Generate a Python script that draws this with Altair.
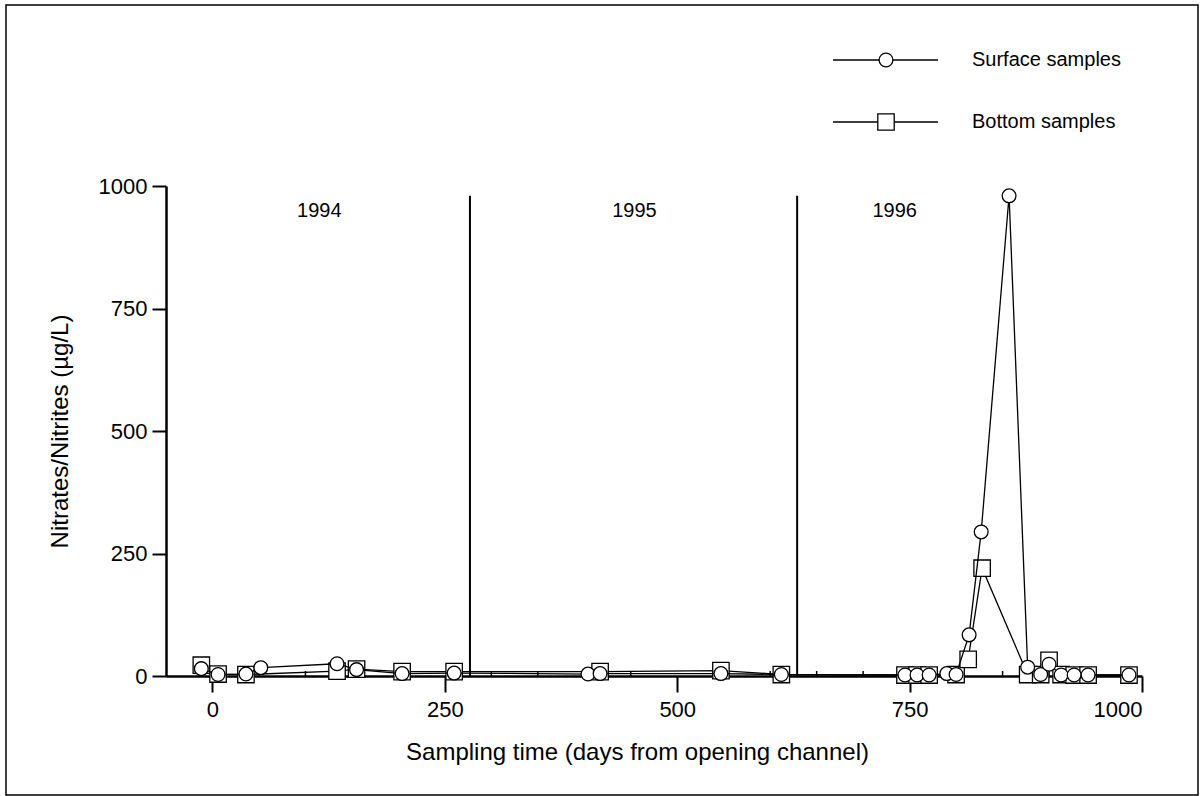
import altair as alt
import pandas as pd

# Sampling days (from channel opening) and nitrate/nitrite concentrations (µg/L)
surface_days = [-12, 6, 36, 52, 134, 155, 204, 260, 404, 417, 547, 612,
                745, 758, 771, 790, 800, 814, 827, 857, 877, 891, 900,
                913, 927, 942, 986]
surface_vals = [15, 3, 4, 17, 25, 13, 5, 6, 4, 5, 5, 3,
                2, 2, 2, 5, 3, 84, 294, 980, 18, 3, 24,
                2, 2, 2, 2]

bottom_days = [-12, 6, 36, 134, 155, 204, 260, 417, 547, 612,
               745, 758, 771, 800, 813, 828, 877, 891, 900,
               913, 927, 942, 986]
bottom_vals = [22, 4, 3, 10, 14, 9, 9, 9, 11, 3,
               2, 2, 2, 3, 34, 220, 3, 3, 32,
               3, 2, 2, 2]

# Year boundaries and year captions
year_breaks = [277, 629]
break_top = 980
year_labels = ["1994", "1995", "1996"]
year_label_days = [115, 454, 734]
year_label_level = 950

# Minor (inward) ticks along the time axis
minor_ticks = [50, 100, 150, 200, 300, 350, 400, 450, 550, 600, 650, 700,
               800, 850, 900, 950]

x_ticks = [0, 250, 500, 750, 1000]
y_ticks = [0, 250, 500, 750, 1000]

FONT = "Liberation Sans"
W, H = 976, 490

surface = pd.DataFrame({"day": surface_days, "value": surface_vals})
bottom = pd.DataFrame({"day": bottom_days, "value": bottom_vals})
breaks = pd.DataFrame({"day": year_breaks, "lo": [0] * len(year_breaks),
                       "hi": [break_top] * len(year_breaks)})
years = pd.DataFrame({"day": year_label_days, "value": [year_label_level] * 3,
                      "label": year_labels})
minors = pd.DataFrame({"day": minor_ticks})

x_scale = alt.Scale(domain=[-50, 1000], nice=False, zero=False)
y_scale = alt.Scale(domain=[0, 1000], nice=False)

x_axis = alt.Axis(
    values=x_ticks, format="d", title="Sampling time (days from opening channel)",
    grid=False, domainColor="black", domainWidth=2.5, tickColor="black",
    tickWidth=2, tickSize=16, labelFont=FONT, labelFontSize=22,
    labelColor="black", labelPadding=7, titleFont=FONT, titleFontSize=24,
    titleFontWeight="normal", titleColor="black", titleX=471, titleY=76,
    titleBaseline="middle", titleAlign="center",
)
y_axis = alt.Axis(
    values=y_ticks, format="d", title="Nitrates/Nitrites (µg/L)", grid=False,
    domainColor="black", domainWidth=2.5, tickColor="black", tickWidth=2,
    tickSize=14, labelFont=FONT, labelFontSize=22, labelColor="black",
    labelPadding=5, titleFont=FONT, titleFontSize=24,
    titleFontWeight="normal", titleColor="black", titleX=-106, titleY=245,
    titleBaseline="middle", titleAlign="center", titleAngle=-90,
)

X = alt.X("day:Q", scale=x_scale, axis=x_axis)
Y = alt.Y("value:Q", scale=y_scale, axis=y_axis)

bottom_line = alt.Chart(bottom).mark_line(color="black", strokeWidth=1.3).encode(x=X, y=Y)
bottom_pts = alt.Chart(bottom).mark_point(
    shape="square", size=270, filled=True, fill="white", stroke="black",
    strokeWidth=1.3, opacity=1).encode(x=X, y=Y)
surface_line = alt.Chart(surface).mark_line(color="black", strokeWidth=1.3).encode(x=X, y=Y)
surface_pts = alt.Chart(surface).mark_point(
    shape="circle", size=190, filled=True, fill="white", stroke="black",
    strokeWidth=1.3, opacity=1).encode(x=X, y=Y)

dividers = alt.Chart(breaks).mark_rule(color="black", strokeWidth=2).encode(
    x=alt.X("day:Q", scale=x_scale), y=alt.Y("lo:Q", scale=y_scale),
    y2="hi:Q")
year_text = alt.Chart(years).mark_text(
    font=FONT, fontSize=20, color="black", baseline="middle").encode(
    x=alt.X("day:Q", scale=x_scale), y=alt.Y("value:Q", scale=y_scale),
    text="label:N")
minor_marks = alt.Chart(minors).mark_rule(color="black", strokeWidth=1.5).encode(
    x=alt.X("day:Q", scale=x_scale), y=alt.value(H - 5), y2=alt.value(H))

# Legend drawn beside the plot, above the data area
one = pd.DataFrame({"k": [0]})
legend_rows = [("Surface samples", "circle", 190, -126),
               ("Bottom samples", "square", 270, -64)]
legend_layers = []
for text, shape, size, ly in legend_rows:
    legend_layers.append(alt.Chart(one).mark_rule(color="black", strokeWidth=1.3).encode(
        x=alt.value(667), x2=alt.value(772), y=alt.value(ly)))
    legend_layers.append(alt.Chart(one).mark_point(
        shape=shape, size=size, filled=True, fill="white", stroke="black",
        strokeWidth=1.3, opacity=1).encode(x=alt.value(720), y=alt.value(ly)))
    legend_layers.append(alt.Chart(one).mark_text(
        text=text, font=FONT, fontSize=20, color="black", align="left",
        baseline="middle").encode(x=alt.value(806), y=alt.value(ly)))

frame = alt.Chart(one).mark_rect(fill=None, stroke="black", strokeWidth=1.5).encode(
    x=alt.value(-160), x2=alt.value(1032), y=alt.value(-181), y2=alt.value(609))

chart = alt.layer(
    frame, dividers, minor_marks, year_text,
    bottom_line, bottom_pts, surface_line, surface_pts,
    *legend_layers,
).properties(
    width=W, height=H,
    autosize=alt.AutoSizeParams(type="none"),
    padding={"left": 166, "top": 186, "right": 62, "bottom": 120},
    background="white",
).configure_view(stroke=None)

chart.save("out.html", embed_options={"renderer": "svg", "actions": False})
